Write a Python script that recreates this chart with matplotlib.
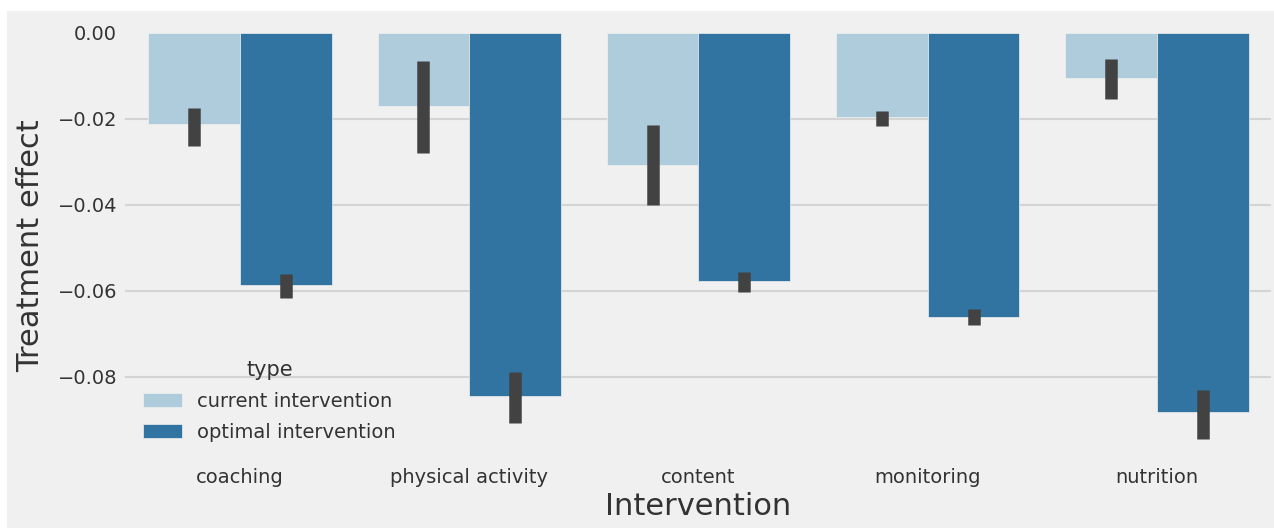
import numpy as np
import matplotlib
matplotlib.use("Agg")
import matplotlib.pyplot as plt
from matplotlib.patches import Rectangle

interventions = ["coaching", "physical activity", "content", "monitoring", "nutrition"]
types = ["current intervention", "optimal intervention"]

# mean treatment effect per intervention, with the bootstrapped CI bounds
current_mean = [-0.0213, -0.0170, -0.0307, -0.0197, -0.0105]
current_ci_hi = [-0.0176, -0.0066, -0.0214, -0.0183, -0.0062]
current_ci_lo = [-0.0264, -0.0281, -0.0401, -0.0217, -0.0155]

optimal_mean = [-0.0586, -0.0845, -0.0577, -0.0662, -0.0883]
optimal_ci_hi = [-0.0561, -0.0790, -0.0558, -0.0643, -0.0831]
optimal_ci_lo = [-0.0618, -0.0909, -0.0603, -0.0680, -0.0946]

colors = ["#aeccdb", "#3274a1"]
err_color = "#424242"

plt.style.use("fivethirtyeight")

fig = plt.figure(figsize=(12.74, 5.28), dpi=100, facecolor="white")
fig.add_artist(Rectangle((7 / 1274, 0), 1 - 7 / 1274, 1 - 11 / 528,
                         transform=fig.transFigure, facecolor="#f0f0f0",
                         edgecolor="none", zorder=-10))
ax = fig.add_axes([0.0985, 0.1297, 0.8995, 0.8087])
ax.set_facecolor("#f0f0f0")

x = np.arange(len(interventions))
width = 0.4
series = [
    (current_mean, current_ci_lo, current_ci_hi),
    (optimal_mean, optimal_ci_lo, optimal_ci_hi),
]
for i, (means, lo, hi) in enumerate(series):
    pos = x - width / 2 + i * width
    ax.bar(pos, means, width=width, color=colors[i], label=types[i],
           edgecolor="#f0f0f0", linewidth=0.5, zorder=2)
    ax.vlines(pos, lo, hi, color=err_color, linewidth=9, capstyle="butt", zorder=3)

ax.set_xlim(-0.5, len(interventions) - 0.5)
ax.set_ylim(-0.0993, 0)
ax.set_yticks([0, -0.02, -0.04, -0.06, -0.08])
ax.set_yticklabels(["0.00", "\u22120.02", "\u22120.04", "\u22120.06", "\u22120.08"])
ax.set_xticks(x)
ax.set_xticklabels(interventions)
ax.tick_params(axis="both", labelsize=14, colors="#333333", pad=6, length=0)
ax.grid(axis="x", visible=False)
ax.grid(axis="y", color="#d4d4d4", linewidth=1.5)
ax.get_ygridlines()[0].set_visible(False)  # hide the line along the top edge
ax.set_axisbelow(True)
for s in ax.spines.values():
    s.set_visible(False)

ax.set_xlabel("Intervention", fontsize=22, color="#333333", labelpad=4)
ax.set_ylabel("Treatment effect", fontsize=22, color="#333333", labelpad=9)

leg = ax.legend(title="type", loc="lower left", frameon=False, fontsize=14,
                title_fontsize=15, labelspacing=0.62)
for t in leg.get_texts():
    t.set_color("#333333")
leg.get_title().set_color("#333333")

fig.savefig("out.png", dpi=100, facecolor=fig.get_facecolor())
